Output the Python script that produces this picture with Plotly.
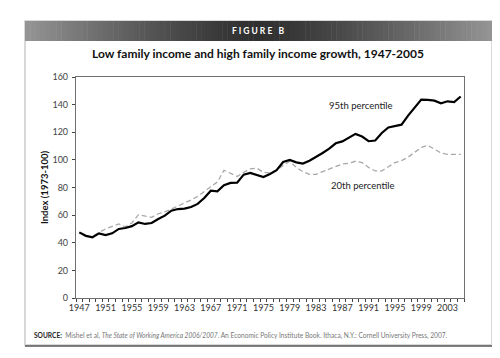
import plotly.graph_objects as go
import numpy as np

years = list(range(1947, 2006))
p95 = [47.5, 45.0, 44.0, 46.8, 45.5, 46.8, 50.0, 50.7, 52.0, 54.8,
       53.6, 54.3, 57.2, 59.6, 63.2, 64.4, 64.7, 65.9, 68.1, 72.4,
       77.7, 77.2, 81.6, 83.3, 83.5, 89.3, 90.5, 89.3, 87.6, 89.8,
       92.5, 98.5, 100.0, 98.2, 97.3, 99.4, 101.9, 105.0, 108.1, 112.0,
       113.4, 115.9, 118.8, 116.9, 113.5, 114.0, 119.5, 123.5, 124.5, 125.5,
       132.0, 138.0, 143.6, 143.4, 142.9, 141.0, 142.4, 141.8, 145.9]
p20 = [47.3, 45.3, 44.3, 47.5, 50.0, 52.0, 53.6, 51.5, 54.3, 60.3,
       59.1, 58.4, 61.0, 62.3, 64.4, 66.4, 68.5, 71.0, 73.5, 77.0,
       81.0, 84.0, 92.5, 90.0, 88.0, 91.0, 93.5, 94.0, 91.0, 90.5,
       92.5, 96.0, 99.0, 94.5, 91.5, 89.5, 89.5, 91.5, 93.5, 95.5,
       97.0, 97.5, 99.0, 98.0, 94.5, 92.0, 92.0, 95.0, 98.0, 99.5,
       102.0, 105.5, 109.0, 110.5, 107.5, 105.0, 104.0, 104.0, 104.0]
label_years = list(range(1947, 2005, 4))
y_ticks = list(range(0, 161, 20))

W, H = 500, 358
L, R, T, B = 68, 456, 69, 290


def px(x):
    return (x - L) / (R - L)


def py(y):
    return (B - y) / (B - T)


FONT = "Lato"

fig = go.Figure()
fig.add_trace(go.Scatter(x=years, y=p20, mode="lines", name="20th percentile",
                         line=dict(color="#a8a8a8", width=1.3, dash="5px,3px")))
fig.add_trace(go.Scatter(x=years, y=p95, mode="lines", name="95th percentile",
                         line=dict(color="#000000", width=2.2)))

shapes = []
# panel
shapes.append(dict(type="rect", xref="paper", yref="paper",
                   x0=px(17), x1=px(484), y0=py(337), y1=py(13),
                   line=dict(color="#d8d8d8", width=2), fillcolor="white", layer="below"))
shapes.append(dict(type="line", xref="paper", yref="paper",
                   x0=px(17), x1=px(484), y0=py(338), y1=py(338),
                   line=dict(color="#555555", width=1.5)))
# header gradient
n = 90
for i in range(n):
    t = (i + 0.5) / n
    d = abs(t - 0.5) * 2
    v = int(48 + (150 - 48) * d ** 1.3)
    c = f"rgb({v},{v},{v})"
    x0 = 17 + (484 - 17) * i / n
    x1 = 17 + (484 - 17) * (i + 1) / n + 0.5
    shapes.append(dict(type="rect", xref="paper", yref="paper",
                       x0=px(x0), x1=px(x1), y0=py(33), y1=py(13),
                       line=dict(width=0), fillcolor=c, layer="below"))

annotations = [
    dict(text="<b>F I G U R E   B</b>", x=px(250), y=py(23), xref="paper", yref="paper",
         showarrow=False, font=dict(family=FONT, size=8.5, color="white"),
         xanchor="center", yanchor="middle"),
    dict(text="<b>Low family income and high family income growth, 1947-2005</b>",
         x=px(250), y=py(46), xref="paper", yref="paper", showarrow=False,
         font=dict(family=FONT, size=12, color="#111111"),
         xanchor="center", yanchor="middle"),
    dict(text="<b>Index (1973-100)</b>", x=px(36), y=py(180), xref="paper", yref="paper",
         showarrow=False, textangle=-90, font=dict(family=FONT, size=9.5, color="#111111"),
         xanchor="center", yanchor="middle"),
    dict(text="95th percentile", x=px(353), y=py(97), xref="paper", yref="paper",
         showarrow=False, font=dict(family=FONT, size=9.5, color="#222222"),
         xanchor="center", yanchor="middle"),
    dict(text="20th percentile", x=px(355), y=py(177), xref="paper", yref="paper",
         showarrow=False, font=dict(family=FONT, size=9.5, color="#222222"),
         xanchor="center", yanchor="middle"),
    dict(text="<b>SOURCE:</b>  <span style='color:#777'>Mishel et al, <i>The State of Working America 2006/2007</i>. "
              "An Economic Policy Institute Book. Ithaca, N.Y.: Cornell University Press, 2007.</span>",
         x=px(24), y=py(327), xref="paper", yref="paper", showarrow=False,
         font=dict(family=FONT, size=6.6, color="#222222"),
         xanchor="left", yanchor="middle"),
]

fig.update_layout(
    width=W, height=H,
    margin=dict(l=L, r=W - R, t=T, b=H - B, pad=0),
    paper_bgcolor="white", plot_bgcolor="white",
    showlegend=False,
    shapes=shapes,
    annotations=annotations,
    xaxis=dict(range=[1946.5, 2005.5], tickmode="array", tickvals=label_years,
               ticktext=[str(y) for y in label_years], ticks="", showgrid=False,
               ticklabelstandoff=1,
               zeroline=False, showline=True, mirror=True, linecolor="#707070", linewidth=1.2,
               tickfont=dict(family=FONT, size=9, color="#333333"),
               minor=dict(tickmode="linear", tick0=1946.5, dtick=1, ticks="outside",
                          ticklen=3, tickcolor="#444444", tickwidth=1, showgrid=False)),
    yaxis=dict(range=[0, 160], tickmode="array", tickvals=y_ticks, ticks="outside",
               ticklen=3, tickcolor="#444444", showgrid=False, zeroline=False,
               showline=True, mirror=True, linecolor="#707070", linewidth=1.2,
               ticklabelstandoff=2,
               tickfont=dict(family=FONT, size=9, color="#444444")),
)

fig.write_html("out.html")
